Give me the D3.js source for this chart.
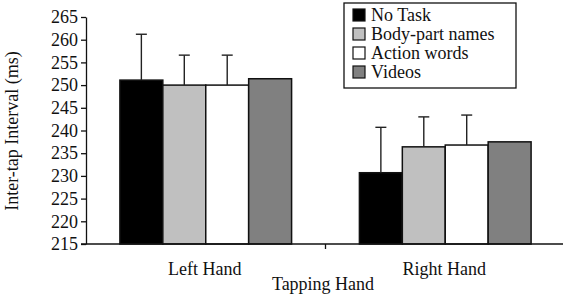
<!DOCTYPE html>
<html><head><meta charset="utf-8">
<script src="https://cdn.jsdelivr.net/npm/d3@7"></script>
<style>body{margin:0;background:#fff}text{font-family:"Liberation Serif","Times New Roman",serif;fill:#111}</style>
</head><body><svg id="c" width="567" height="297"></svg>
<script>
const categories = ["Left Hand", "Right Hand"];
const series = ["No Task", "Body-part names", "Action words", "Videos"];
const noTask = [251.1, 230.7];
const bodyPart = [250.0, 236.4];
const actionWords = [250.0, 236.8];
const videos = [251.4, 237.5];
const errNoTask = [10.1, 10.0];
const errBodyPart = [6.6, 6.6];
const errAction = [6.6, 6.6];
const errVideos = [null, null];
const yTicks = [215,220,225,230,235,240,245,250,255,260,265];
const colors = ["#000000", "#c0c0c0", "#ffffff", "#808080"];

const values = [noTask, bodyPart, actionWords, videos];
const errs = [errNoTask, errBodyPart, errAction, errVideos];

const svg = d3.select("#c");
const L = 86, R = 565, T = 17, B = 244;
const x0 = d3.scaleBand().domain(categories).range([L, R]).padding(0);
const x1 = d3.scaleBand().domain(series).range([0, x0.bandwidth()]).paddingInner(0).paddingOuter(0.79);
const y = d3.scaleLinear().domain([215, 265]).range([B, T]);

// y axis
const ya = svg.append("g").attr("transform", `translate(${L},0)`)
  .call(d3.axisLeft(y).tickValues(yTicks).tickSize(5).tickPadding(3).tickSizeOuter(0));
ya.selectAll("text").style("font-size", "18px").style("font-family", "Liberation Serif").attr("fill", "#111");
ya.selectAll("line, path").attr("stroke", "#111").attr("stroke-width", 1.3);

// bars
const data = [];
categories.forEach((c, ci) => series.forEach((s, si) => data.push({c, s, si, v: values[si][ci], e: errs[si][ci]})));
const g = svg.append("g");
g.selectAll("rect").data(data).enter().append("rect")
  .attr("x", d => x0(d.c) + x1(d.s))
  .attr("y", d => y(d.v))
  .attr("width", x1.bandwidth())
  .attr("height", d => y(215) - y(d.v))
  .attr("fill", d => colors[d.si])
  .attr("stroke", "#111").attr("stroke-width", 1.5);

// error bars
const eb = data.filter(d => d.e != null);
const cx = d => x0(d.c) + x1(d.s) + x1.bandwidth() / 2;
g.selectAll("line.eb").data(eb).enter().append("line").attr("class", "eb")
  .attr("x1", cx).attr("x2", cx).attr("y1", d => y(d.v)).attr("y2", d => y(d.v + d.e))
  .attr("stroke", "#222").attr("stroke-width", 1.4);
g.selectAll("line.cap").data(eb).enter().append("line").attr("class", "cap")
  .attr("x1", d => cx(d) - 5.5).attr("x2", d => cx(d) + 5.5)
  .attr("y1", d => y(d.v + d.e)).attr("y2", d => y(d.v + d.e))
  .attr("stroke", "#222").attr("stroke-width", 1.4);

// x axis
const xa = svg.append("g");
xa.append("line").attr("x1", L - 5).attr("x2", R - 2).attr("y1", B).attr("y2", B).attr("stroke", "#111").attr("stroke-width", 1.3);
xa.append("line").attr("x1", x0(categories[1])).attr("x2", x0(categories[1])).attr("y1", B).attr("y2", B + 5).attr("stroke", "#111").attr("stroke-width", 1.3);
xa.selectAll("text").data(categories).enter().append("text")
  .attr("x", d => x0(d) + x0.bandwidth() / 2 - 1).attr("y", 275)
  .attr("text-anchor", "middle").style("font-size", "18px").text(d => d);

svg.append("text").attr("x", 323).attr("y", 290).attr("text-anchor", "middle").style("font-size", "18px").text("Tapping Hand");
svg.append("text").attr("transform", "translate(18,131) rotate(-90)").attr("text-anchor", "middle").style("font-size", "18px").text("Inter-tap Interval (ms)");

// legend
const lg = svg.append("g");
lg.append("rect").attr("x", 344).attr("y", 3).attr("width", 172).attr("height", 85).attr("fill", "#fff").attr("stroke", "#111").attr("stroke-width", 1.3);
series.forEach((s, i) => {
  const yy = 15 + i * 19;
  lg.append("rect").attr("x", 353).attr("y", yy - 6).attr("width", 12).attr("height", 12).attr("fill", colors[i]).attr("stroke", "#111").attr("stroke-width", 1.2);
  lg.append("text").attr("x", 371).attr("y", yy + 6).style("font-size", "18px").text(s);
});
</script></body></html>
